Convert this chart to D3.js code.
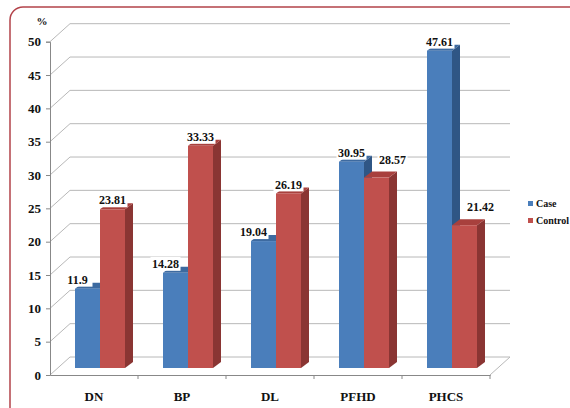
<!DOCTYPE html>
<html>
<head>
<meta charset="utf-8">
<script src="https://d3js.org/d3.v7.min.js"></script>
<style>
  body { margin: 0; background: #fff; }
  text { font-family: "Liberation Serif", "Times New Roman", serif; font-weight: bold; fill: #111; }
</style>
</head>
<body>
<div id="chart"></div>
<script>
// data
var categories = ["DN", "BP", "DL", "PFHD", "PHCS"];
var seriesNames = ["Case", "Control"];
var caseValues = [11.9, 14.28, 19.04, 30.95, 47.61];
var controlValues = [23.81, 33.33, 26.19, 28.57, 21.42];
var yTicks = [0, 5, 10, 15, 20, 25, 30, 35, 40, 45, 50];

var width = 570, height = 408;
var colors = { Case: "#4a7ebb", Control: "#c0504d" };
var sideColors = { Case: "#2f5685", Control: "#8a3533" };
var topColors = { Case: "#3d6aa0", Control: "#a8403d" };

// 3d offsets
var depthX = 20, depthY = -18;   // back wall
var barDx = 6, barDy = -7;       // bar front face inside the floor
var barDepthX = 8, barDepthY = -6;

var svg = d3.select("#chart").append("svg")
    .attr("width", width).attr("height", height);

// outer border
svg.append("rect")
    .attr("x", 10).attr("y", 7).attr("width", 620).attr("height", 460)
    .attr("rx", 13).attr("fill", "none")
    .attr("stroke", "#b3434a").attr("stroke-width", 1.5);

var y = d3.scaleLinear().domain([0, 50]).range([375, 41.7]);
var x = d3.scaleBand().domain(categories).range([50, 490]);
var xs = d3.scaleBand().domain(seriesNames).range([19, 69]);

// gridlines on the back wall + side wall diagonals
var grid = svg.append("g");
yTicks.forEach(function(t) {
    grid.append("polyline")
        .attr("points", [[50, y(t)], [50 + depthX, y(t) + depthY], [490 + depthX, y(t) + depthY]].join(" "))
        .attr("fill", "none").attr("stroke", "#b8b8b8").attr("stroke-width", 1);
});
// floor right edge
grid.append("line")
    .attr("x1", 490).attr("y1", y(0)).attr("x2", 490 + depthX).attr("y2", y(0) + depthY)
    .attr("stroke", "#b8b8b8");

// y axis
var yAxis = svg.append("g")
    .attr("transform", "translate(50,0)")
    .call(d3.axisLeft(y).tickValues(yTicks).tickSize(4).tickPadding(5));
yAxis.select(".domain").attr("stroke", "#888");
yAxis.selectAll(".tick line").attr("stroke", "#888");
yAxis.selectAll(".tick text").style("font-size", "13px").style("font-family", "Liberation Serif").style("font-weight", "bold").attr("fill", "#111");

// x axis
var xAxis = svg.append("g")
    .attr("transform", "translate(0," + y(0) + ")")
    .call(d3.axisBottom(x).tickSize(0).tickPadding(17));
xAxis.select(".domain").attr("stroke", "#888");
xAxis.selectAll(".tick text").style("font-size", "13px").style("font-family", "Liberation Serif").style("font-weight", "bold").attr("fill", "#111");
// category separators
svg.append("g").selectAll("line")
    .data(categories)
    .enter().append("line")
    .attr("x1", function(d) { return x(d) + x.bandwidth(); })
    .attr("x2", function(d) { return x(d) + x.bandwidth(); })
    .attr("y1", y(0)).attr("y2", y(0) + 4)
    .attr("stroke", "#888");

svg.append("text").attr("x", 42).attr("y", 25)
    .attr("text-anchor", "middle").style("font-size", "11px").text("%");

// bars
var rows = [];
seriesNames.forEach(function(s, si) {
    var vals = si === 0 ? caseValues : controlValues;
    var other = si === 0 ? controlValues : caseValues;
    categories.forEach(function(c, i) {
        rows.push({ series: s, cat: c, value: vals[i], other: other[i] });
    });
});

var base = y(0) + barDy;
var w = xs.bandwidth();
function bx(d) { return x(d.cat) + xs(d.series) + barDx; }
function by(d) { return y(d.value) + barDy; }

var bars = svg.append("g").selectAll("g")
    .data(rows)
    .enter().append("g");

bars.append("polygon")
    .attr("points", function(d) {
        var x0 = bx(d) + w, t = by(d);
        return [[x0, t], [x0 + barDepthX, t + barDepthY], [x0 + barDepthX, base + barDepthY], [x0, base]].join(" ");
    })
    .attr("fill", function(d) { return sideColors[d.series]; });

bars.append("polygon")
    .attr("points", function(d) {
        var x0 = bx(d), t = by(d);
        return [[x0, t], [x0 + w, t], [x0 + w + barDepthX, t + barDepthY], [x0 + barDepthX, t + barDepthY]].join(" ");
    })
    .attr("fill", function(d) { return topColors[d.series]; });

bars.append("rect")
    .attr("x", bx)
    .attr("y", by)
    .attr("width", w)
    .attr("height", function(d) { return base - by(d); })
    .attr("fill", function(d) { return colors[d.series]; });

// value labels (nudged away from taller neighbour)
var labels = svg.append("g").selectAll("g")
    .data(rows)
    .enter().append("g")
    .attr("transform", function(d) {
        var cx = bx(d) + w / 2, cy = by(d) - 9;
        if (d.other > d.value) {
            if (d.series === "Case") cx -= 10;
            else { cx += 16; cy -= 9; }
        }
        return "translate(" + cx + "," + cy + ")";
    });
labels.append("rect")
    .attr("x", -15).attr("y", -7).attr("width", 30).attr("height", 14)
    .attr("fill", "#fff");
labels.append("text")
    .attr("text-anchor", "middle").attr("dy", "0.35em")
    .style("font-size", "12px")
    .text(function(d) { return d.value; });

// legend
var legend = svg.append("g").selectAll("g")
    .data(seriesNames)
    .enter().append("g")
    .attr("transform", function(d, i) { return "translate(528," + (201 + i * 17) + ")"; });
legend.append("rect").attr("width", 5).attr("height", 5)
    .attr("fill", function(d) { return colors[d]; });
legend.append("text").attr("x", 8).attr("y", 6)
    .style("font-size", "10px")
    .text(function(d) { return d; });
</script>
</body>
</html>
